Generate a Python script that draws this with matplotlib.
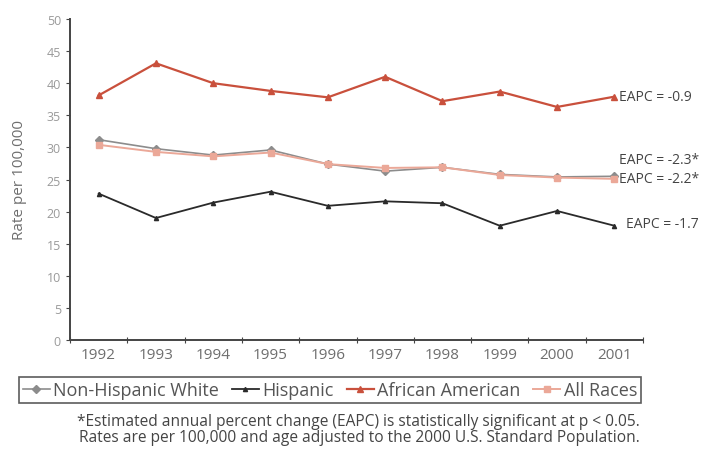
import numpy as np
import matplotlib.pyplot as plt

plt.rcParams['font.family'] = ['Open Sans', 'DejaVu Sans']

years = ['1992', '1993', '1994', '1995', '1996', '1997', '1998', '1999', '2000', '2001']
nh_white = [31.2, 29.8, 28.8, 29.6, 27.4, 26.3, 26.9, 25.8, 25.4, 25.5]
hispanic = [22.8, 19.0, 21.4, 23.1, 20.9, 21.6, 21.3, 17.8, 20.1, 17.8]
african_american = [38.1, 43.1, 40.0, 38.8, 37.8, 41.0, 37.2, 38.7, 36.3, 37.9]
all_races = [30.4, 29.3, 28.6, 29.2, 27.4, 26.8, 26.9, 25.7, 25.3, 25.1]
eapc_labels = ['EAPC = -0.9', 'EAPC = -2.3*', 'EAPC = -2.2*', 'EAPC = -1.7']

grey_text = '#6e6e6e'
x = np.arange(len(years))

fig = plt.figure(figsize=(7.02, 4.52), dpi=100)
ax = fig.add_axes([70 / 702, 1 - 341 / 452, 573 / 702, 321 / 452])

ax.plot(x, nh_white, color='#8c8c8c', marker='D', markersize=4, lw=1.2, label='Non-Hispanic White')
ax.plot(x, hispanic, color='#2a2a2a', marker='^', markersize=3, lw=1.3, label='Hispanic')
ax.plot(x, african_american, color='#c9503c', marker='^', markersize=5, lw=1.6, label='African American')
ax.plot(x, all_races, color='#eba898', marker='s', markersize=4, lw=1.4, label='All Races')

# EAPC notes at the end of each line
ax.text(9.08, african_american[-1], eapc_labels[0], fontsize=10, color='#444444', va='center')
ax.text(9.08, 28.1, eapc_labels[1], fontsize=10, color='#444444', va='center')
ax.text(9.08, all_races[-1], eapc_labels[2], fontsize=10, color='#444444', va='center')
ax.text(9.2, hispanic[-1] + 0.3, eapc_labels[3], fontsize=10, color='#444444', va='center')

ax.set_xlim(-0.5, 9.5)
ax.set_ylim(0, 50)
ax.set_yticks(np.arange(0, 51, 5))
ax.tick_params(axis='y', labelsize=9, labelcolor='#9a9a9a', length=3, color='#444444')

# tick marks at category boundaries, labels at centres
ax.set_xticks(np.arange(-0.5, 10, 1))
ax.set_xticklabels([])
ax.tick_params(axis='x', which='major', direction='inout', length=5, color='#444444')
ax.set_xticks(x, minor=True)
ax.set_xticklabels(years, minor=True)
ax.tick_params(axis='x', which='minor', length=0, labelsize=11, labelcolor=grey_text, pad=5)

for side in ['top', 'right']:
    ax.spines[side].set_visible(False)
for side in ['left', 'bottom']:
    ax.spines[side].set_color('#444444')
    ax.spines[side].set_linewidth(1.4)

ax.set_ylabel('Rate per 100,000', fontsize=11, color=grey_text, labelpad=14)

leg = fig.legend(loc='center', bbox_to_anchor=(330 / 702, 1 - 391 / 452), ncol=4,
                 fontsize=13, frameon=True, fancybox=False, handlelength=1.5,
                 handletextpad=0.2, columnspacing=0.7, borderpad=0.2)
leg.get_frame().set_edgecolor('#333333')
leg.get_frame().set_linewidth(1.2)
for t in leg.get_texts():
    t.set_color('#555555')

fig.text(640 / 702, 1 - 422 / 452,
         '*Estimated annual percent change (EAPC) is statistically significant at p < 0.05.',
         ha='right', va='center', fontsize=11.2, color='#444444')
fig.text(640 / 702, 1 - 438 / 452,
         'Rates are per 100,000 and age adjusted to the 2000 U.S. Standard Population.',
         ha='right', va='center', fontsize=11.2, color='#444444')

fig.savefig('out.png', dpi=100)
